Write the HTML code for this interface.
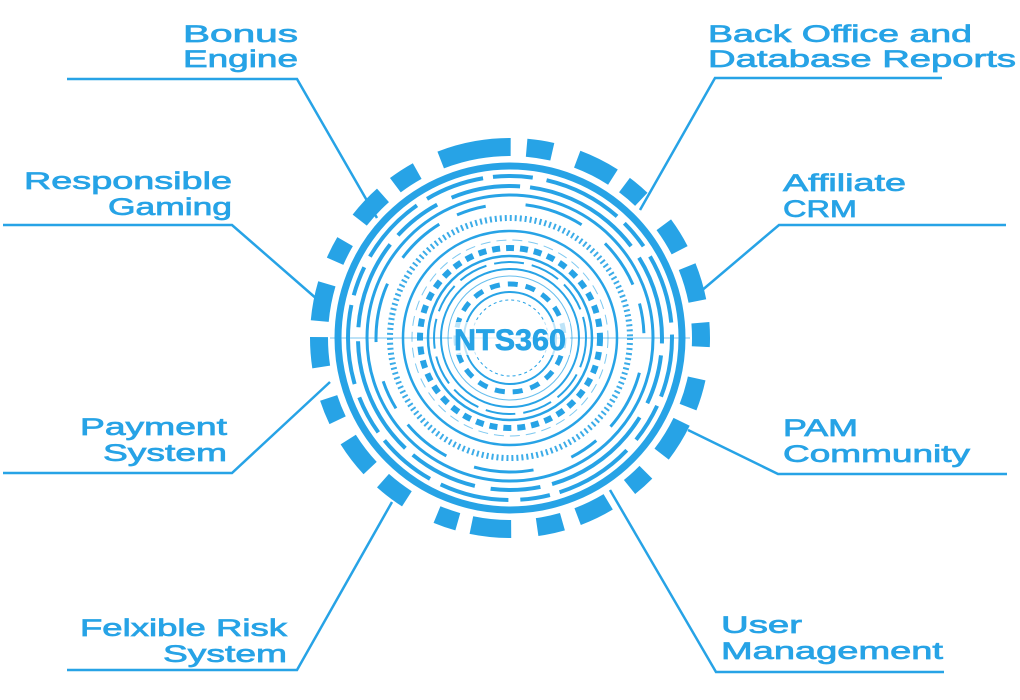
<!DOCTYPE html>
<html><head><meta charset="utf-8"><style>
html,body{margin:0;padding:0;background:#fff;}
svg{display:block}
text{font-family:"Liberation Sans",sans-serif;fill:#27a3e6;font-size:24px;stroke:#27a3e6;stroke-width:0.7}
</style></head><body>
<svg width="1020" height="700" viewBox="0 0 1020 700">
<g fill="none" stroke="#27a3e6" stroke-width="2.5">
<polyline points="67,79 297,79 377,218"/>
<polyline points="3,225 232,225 318,300"/>
<polyline points="3,473 232,473 330,382"/>
<polyline points="67,670 297,670 392,502"/>
<polyline points="942,78 715,78 640,210"/>
<polyline points="1006,225 779,225 700,292"/>
<polyline points="1007,474 778,474 688,430"/>
<polyline points="944,672 716,672 610,490"/>
</g>
<g transform="translate(510,338)" fill="none" stroke="#27a3e6">
<circle r="191" stroke-width="18" stroke-dasharray="34 16 26 26 40 14 22 34 30 18 36 22 24 32 30 16 38 24 22 26" transform="rotate(-100)"/>
<circle r="172" stroke-width="7"/>
<circle r="162" stroke-width="4" stroke-dasharray="60 10 40 14 80 10 30 12 70 12" />
<circle r="152" stroke-width="4" stroke-dasharray="90 12 50 16 70 10 120 14" transform="rotate(40)"/>
<circle r="143" stroke-width="3"/>
<circle r="134" stroke-width="3" stroke-dasharray="50 20 30 40 60 30" transform="rotate(20)"/>
<circle r="120" stroke-width="6" stroke-dasharray="2 3" stroke-opacity="0.9"/>
<circle r="107" stroke-width="2.5"/>
<circle r="98" stroke-width="1" stroke-dasharray="10 6" opacity="0.6"/>
<circle r="90" stroke-width="6" stroke-dasharray="8 6"/>
<circle r="82" stroke-width="2.5"/>
<circle r="76" stroke-width="2" stroke-dasharray="30 8"/>
<circle r="69" stroke-width="2"/>
<circle r="62" stroke-width="1" opacity="0.7"/>
<circle r="54" stroke-width="5" stroke-dasharray="10 8"/>
<circle r="46" stroke-width="2"/>
<circle r="38" stroke-width="1" stroke-dasharray="3 3"/>
<line x1="-180" y1="0" x2="180" y2="0" stroke-width="1.2" opacity="0.5"/>
</g>
<rect x="452" y="322" width="118" height="33" fill="#fff" opacity="0.7"/>
<text x="510" y="350" text-anchor="middle" font-weight="bold" style="font-size:30px" textLength="112" lengthAdjust="spacingAndGlyphs">NTS360</text>

<text x="183" y="42" textLength="115" lengthAdjust="spacingAndGlyphs">Bonus</text>
<text x="183" y="67" textLength="115" lengthAdjust="spacingAndGlyphs">Engine</text>
<text x="24" y="189" textLength="208" lengthAdjust="spacingAndGlyphs">Responsible</text>
<text x="108" y="215" textLength="124" lengthAdjust="spacingAndGlyphs">Gaming</text>
<text x="80" y="435" textLength="147" lengthAdjust="spacingAndGlyphs">Payment</text>
<text x="103" y="461" textLength="124" lengthAdjust="spacingAndGlyphs">System</text>
<text x="80" y="636" textLength="207" lengthAdjust="spacingAndGlyphs">Felxible Risk</text>
<text x="163" y="662" textLength="124" lengthAdjust="spacingAndGlyphs">System</text>
<text x="708" y="42" textLength="264" lengthAdjust="spacingAndGlyphs">Back Office and</text>
<text x="708" y="67" textLength="308" lengthAdjust="spacingAndGlyphs">Database Reports</text>
<text x="783" y="191" textLength="123" lengthAdjust="spacingAndGlyphs">Affiliate</text>
<text x="783" y="217" textLength="74" lengthAdjust="spacingAndGlyphs">CRM</text>
<text x="783" y="436" textLength="75" lengthAdjust="spacingAndGlyphs">PAM</text>
<text x="783" y="462" textLength="187" lengthAdjust="spacingAndGlyphs">Community</text>
<text x="721" y="633" textLength="81" lengthAdjust="spacingAndGlyphs">User</text>
<text x="721" y="659" textLength="222" lengthAdjust="spacingAndGlyphs">Management</text>
</svg>
</body></html>
